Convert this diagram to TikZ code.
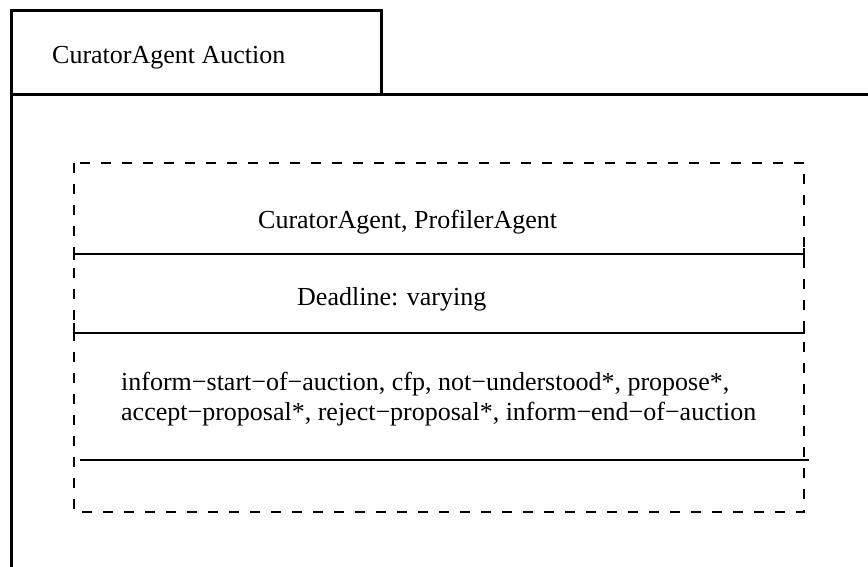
\documentclass[tikz,border=0pt]{standalone}
\usepackage{fontspec}
\setmainfont{Liberation Serif}
\begin{document}
\begin{tikzpicture}[x=1pt,y=-1pt,
  frame/.style={line width=3pt},
  dashbox/.style={line width=1.8pt, dash pattern=on 10pt off 11pt},
  sep/.style={line width=1.8pt},
  lbl/.style={anchor=base west, inner sep=0pt, font=\fontsize{26}{31}\selectfont}]
\useasboundingbox (0,0) rectangle (868,567);
% outer frame
\coordinate (tl) at (11,11);
\coordinate (tr) at (381,11);
\coordinate (tb) at (381,95);
\coordinate (hl) at (11,95);
\coordinate (hr) at (868,95);
\coordinate (bl) at (11,567);
\draw[frame, line join=miter] (hl) -- (tl) -- (tr) -- (tb);
\draw[frame] (bl) -- (tl);
\draw[frame] (hl) -- (hr);
\node[lbl] (title) at (52,64) {CuratorAgent Auction};
% dashed box
\coordinate (d1) at (74,163);
\coordinate (d2) at (804,512);
\draw[dashbox] (d1) rectangle (d2);
% separators
\coordinate (s1l) at (74,254); \coordinate (s1r) at (804,254);
\coordinate (s2l) at (74,333); \coordinate (s2r) at (804,333);
\coordinate (s3l) at (80,460); \coordinate (s3r) at (809,460);
\draw[sep, line width=1.5pt] (s1l) -- (s1r);
\draw[sep] ([yshift=-6pt]s1l) -- ([yshift=6pt]s1l);
\draw[sep] ([yshift=-6pt]s1r) -- ([yshift=6pt]s1r);
\draw[sep] ([yshift=10pt]s2l) -- (s2l) -- (s2r) -- ([yshift=10pt]s2r);
\draw[sep, line width=2pt] (s3l) -- (s3r);
% texts
\node[lbl] (agents) at (258,228) {CuratorAgent, ProfilerAgent};
\node[lbl] (deadline) at (297,305) {Deadline: varying};
\node[lbl] (msg1) at (121,390) {inform−start−of−auction, cfp, not−understood*, propose*,};
\node[lbl] (msg2) at (121,420) {accept−proposal*, reject−proposal*, inform−end−of−auction};
\end{tikzpicture}
\end{document}
